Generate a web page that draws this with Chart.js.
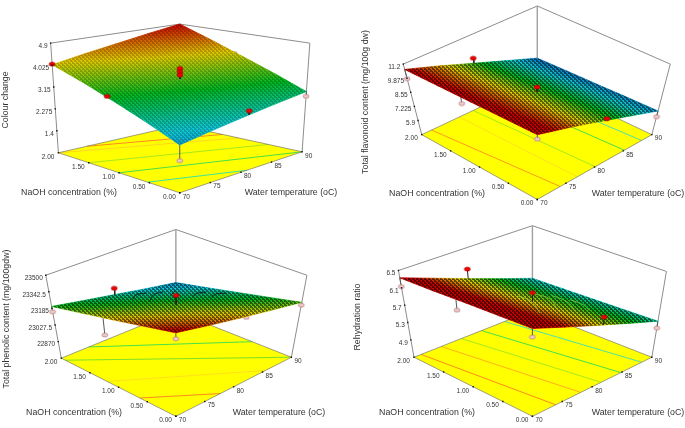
<!DOCTYPE html>
<html>
<head>
<meta charset="utf-8">
<title>Response surfaces</title>
<style>
  html, body { margin: 0; padding: 0; background: #fff; }
  canvas { position: absolute; filter: blur(0.4px); }
</style>
<script src="https://cdn.jsdelivr.net/npm/chart.js@4"></script>
</head>
<body>
<canvas id="colourChart" width="343" height="214" style="left:0;top:0"></canvas>
<canvas id="flavonoidChart" width="343" height="214" style="left:342px;top:0"></canvas>
<canvas id="phenolicChart" width="343" height="214" style="left:0;top:214px"></canvas>
<canvas id="rehydrationChart" width="343" height="214" style="left:342px;top:214px"></canvas>
<script>
// axes shared by the four plots
const tempTicks = [70, 75, 80, 85, 90];
const naohTicks = [0, 0.5, 1, 1.5, 2];

// response read at each tick crossing, one row per NaOH tick, one column per temperature tick
const colourGrid = [
  [2.19, 2.38, 2.57, 2.76, 2.95],
  [2.65, 2.86, 3.06, 3.26, 3.44],
  [3.11, 3.32, 3.54, 3.74, 3.92],
  [3.58, 3.80, 4.02, 4.22, 4.41],
  [4.04, 4.26, 4.47, 4.69, 4.90]
];
const flavonoidGrid = [
  [11.10, 10.10, 9.00, 7.90, 6.80],
  [11.00, 10.00, 8.95, 7.85, 6.75],
  [10.90, 9.90, 8.86, 7.78, 6.68],
  [10.80, 9.80, 8.75, 7.68, 6.62],
  [10.70, 9.70, 8.62, 7.58, 6.55]
];
const phenolicGrid = [
  [23497, 23430, 23365, 23302, 23240],
  [23424, 23365, 23308, 23240, 23177],
  [23350, 23295, 23245, 23180, 23115],
  [23277, 23222, 23170, 23110, 23052],
  [23204, 23150, 23097, 23042, 22990]
];
const rehydrationGrid = [
  [6.46, 6.18, 5.90, 5.62, 5.34],
  [6.43, 6.16, 5.88, 5.60, 5.32],
  [6.40, 6.13, 5.85, 5.58, 5.30],
  [6.36, 6.09, 5.82, 5.55, 5.28],
  [6.33, 6.06, 5.79, 5.52, 5.26]
];

// z axis tick labels, floor sits one step under the first one
const colourTicks = ['1.4', '2.275', '3.15', '4.025', '4.9'];
const flavonoidTicks = ['5.9', '7.225', '8.55', '9.875', '11.2'];
const phenolicTicks = ['22870', '23027.5', '23185', '23342.5', '23500'];
const rehydrationTicks = ['4.9', '5.3', '5.7', '6.1', '6.5'];

// design points: temperature, NaOH, response
const colourPoints = [
  [70, 2, 4.06], [70, 1.15, 3.28], [70, 0, 1.64], [90, 0, 2.76], [90, 1.15, 4.0],
  [81, 0, 2.76], [80, 1, 3.95], [80, 1, 3.82], [80, 1, 3.69]
];
const flavonoidPoints = [
  [70, 2, 9.83], [70, 1.15, 10.25], [70, 0, 10.65], [90, 0, 6.25],
  [81, 0, 8.95], [80, 1, 9.31], [80, 2, 9.08]
];
const phenolicPoints = [
  [70, 2, 23153], [70, 1.15, 23165], [70, 0, 23440], [90, 0, 23213],
  [81, 0, 23343], [80, 1, 23335], [80, 2, 23157]
];
const rehydrationPoints = [
  [70, 2, 6.13], [70, 1.15, 6.14], [70, 0, 6.27], [90, 0, 5.18],
  [81, 0, 6.03], [80, 1, 6.06], [80, 2, 6.01]
];

// floor contours: from temp, from NaOH, to temp, to NaOH, colour
const colourContours = [
  [74.7, 2, 90, 1.3, '#ff8a1e'],
  [70, 2, 90, 1.04, '#ffd81e'],
  [70, 1.5, 90, 0.55, '#a8e81e'],
  [70, 1, 90, 0, '#48e048'],
  [70, 0.53, 81, 0, '#40e0a0']
];
const flavonoidContours = [
  [71.7, 2, 74, 0, '#ff9a1e'],
  [76.5, 2, 77, 0, '#ffe01e'],
  [78.9, 2, 80.1, 0, '#a8e81e'],
  [84, 2, 85.2, 0, '#48e048'],
  [87, 2, 88.2, 0, '#50e0a8']
];
const phenolicContours = [
  [70, 0.63, 77.7, 0, '#ff8a1e'],
  [70, 1.2, 85.5, 0, '#ffe01e'],
  [70, 1.93, 90, 0, '#80e028'],
  [74.8, 2, 90, 0.68, '#48e048']
];
const rehydrationContours = [
  [71.2, 2, 73.9, 0, '#ff8a1e'],
  [74.6, 2, 78.1, 0, '#ffb01e'],
  [78, 2, 81.5, 0, '#a8e81e'],
  [81.4, 2, 84.8, 0, '#48e048'],
  [85.3, 2, 88.3, 0, '#50e0a8']
];

// contour curves on the surface, each a run of temperature, NaOH pairs
const phenolicCurves = [
  [[79.4, 1.64], [81.5, 1.8], [83.2, 1.8]],
  [[79.8, 1.4], [82.8, 1.65], [84.9, 1.7]],
  [[84.2, 1.5], [86.5, 1.66]],
  [[84.6, 1.2], [86.6, 1.33], [87.9, 1.3]],
  [[86.1, 1.04], [87.8, 1.13], [88.9, 1.07]]
];
const rehydrationCurves = [
  [[80.2, 1.25], [80, 1.01], [76.6, 0.55]],
  [[83.5, 1.33], [83.6, 1.08], [80.6, 0.68]],
  [[85.4, 1.24], [84.9, 0.94], [82.6, 0.6]],
  [[86.3, 1.04], [86, 0.79], [84.6, 0.57]]
];

const panels = [
  {
    id: 'colourChart', title: 'Colour change', grid: colourGrid, ticks: colourTicks,
    points: colourPoints, contours: colourContours, curves: [], curveColour: '#000',
    low: 1.4, high: 4.9, colourMin: 1.6, colourMax: 4.9,
    floor: { f: [180, 197], l: [55, 155], r: [306, 154], b: [180, 126] },
    roof: { f: [180, 65], l: [47, 40], r: [314, 40], b: [180, 20] },
    titlePos: [6, 100], naohPos: [69, 193], tempPos: [291, 193], mesh: 0.2
  },
  {
    id: 'flavonoidChart', title: 'Total flavonoid content (mg/100g dw)', grid: flavonoidGrid, ticks: flavonoidTicks,
    points: flavonoidPoints, contours: flavonoidContours, curves: [], curveColour: '#000',
    low: 5.9, high: 11.2, colourMin: 6.2, colourMax: 10.6,
    floor: { f: [196, 204], l: [77, 136], r: [314, 136], b: [196, 79] },
    roof: { f: [196, 135], l: [58, 62], r: [333, 62], b: [196, 1] },
    titlePos: [24, 102], naohPos: [95, 194], tempPos: [296, 194], mesh: 0.5
  },
  {
    id: 'phenolicChart', title: 'Total phenolic content (mg/100gdw)', grid: phenolicGrid, ticks: phenolicTicks,
    points: phenolicPoints, contours: phenolicContours, curves: phenolicCurves, curveColour: '#101010',
    low: 22870, high: 23500, colourMin: 22910, colourMax: 23470,
    floor: { f: [176, 207], l: [58, 146], r: [295, 145], b: [176, 97] },
    roof: { f: [176, 119], l: [42, 59], r: [311, 59], b: [176, 11] },
    titlePos: [7, 105], naohPos: [74, 199], tempPos: [279, 199], mesh: 0.5
  },
  {
    id: 'rehydrationChart', title: 'Rehydration ratio', grid: rehydrationGrid, ticks: rehydrationTicks,
    points: rehydrationPoints, contours: rehydrationContours, curves: rehydrationCurves, curveColour: '#8cc83c',
    low: 4.9, high: 6.5, colourMin: 4.9, colourMax: 6.2,
    floor: { f: [191, 207], l: [69, 145], r: [314, 145], b: [191, 96] },
    roof: { f: [191, 113], l: [53, 54], r: [329, 55], b: [191, 7] },
    titlePos: [16, 103], naohPos: [85, 199], tempPos: [296, 199], mesh: 0.55
  }
];

function mix(a, b, k) { return a + (b - a) * k; }

function corners(c, u, v) {
  // u along temperature, v along NaOH
  const x = mix(mix(c.f[0], c.r[0], u), mix(c.l[0], c.b[0], u), v);
  const y = mix(mix(c.f[1], c.r[1], u), mix(c.l[1], c.b[1], u), v);
  return [x, y];
}

function project(p, temp, naoh, z) {
  const u = (temp - 70) / 20, v = naoh / 2;
  const step = (p.high - p.low) / (p.ticks.length - 1);
  const base = p.low - step;
  const k = (z - base) / (p.high - base);
  const a = corners(p.floor, u, v), b = corners(p.roof, u, v);
  return { x: mix(a[0], b[0], k), y: mix(a[1], b[1], k) };
}

function surfaceAt(p, temp, naoh) {
  const u = (temp - 70) / 5, v = naoh / 0.5;
  const i = Math.min(Math.floor(u), 3), j = Math.min(Math.floor(v), 3);
  const g = p.grid;
  return mix(mix(g[j][i], g[j][i + 1], u - i), mix(g[j + 1][i], g[j + 1][i + 1], u - i), v - j);
}

const colourStops = ['#0048b0', '#10c8d8', '#00b820', '#e0cc00', '#c80000'];

function cellGradient(chart, p, i, j) {
  if (!chart.chartArea) return 'rgba(0,0,0,0)';
  const t0 = tempTicks[i], t1 = tempTicks[i + 1], n0 = naohTicks[j], n1 = naohTicks[j + 1];
  const g = p.grid, sx = chart.scales.x, sy = chart.scales.y;
  const px = q => [sx.getPixelForValue(q.x), sy.getPixelForValue(q.y)];
  const a = px(project(p, t0, n0, g[j][i]));
  const b = px(project(p, t1, n0, g[j][i + 1]));
  const c = px(project(p, t0, n1, g[j + 1][i]));
  const dz1 = g[j][i + 1] - g[j][i], dz2 = g[j + 1][i] - g[j][i];
  const ex = b[0] - a[0], ey = b[1] - a[1], fx = c[0] - a[0], fy = c[1] - a[1];
  const det = ex * fy - ey * fx;
  const gx = (dz1 * fy - ey * dz2) / det, gy = (ex * dz2 - dz1 * fx) / det;
  const len = gx * gx + gy * gy;
  const from = p.colourMin - g[j][i], to = p.colourMax - g[j][i];
  const ends = [a[0] + gx * from / len, a[1] + gy * from / len, a[0] + gx * to / len, a[1] + gy * to / len];
  if (!ends.every(Number.isFinite)) return 'rgba(0,0,0,0)';
  const grad = chart.ctx.createLinearGradient(ends[0], ends[1], ends[2], ends[3]);
  colourStops.forEach((c2, k) => grad.addColorStop(k / (colourStops.length - 1), c2));
  return grad;
}

function meshPattern(alpha) {
  const tile = document.createElement('canvas');
  tile.width = 4; tile.height = 4;
  const c = tile.getContext('2d');
  c.fillStyle = 'rgba(0,0,0,' + alpha + ')';
  c.fillRect(0, 0, 4, 4);
  c.clearRect(0, 0, 2, 1);
  c.clearRect(2, 2, 2, 1);
  c.clearRect(1, 1, 1, 1);
  c.clearRect(3, 3, 1, 1);
  return c.createPattern(tile, 'repeat');
}

function dotImage(fill, stroke) {
  const dot = document.createElement('canvas');
  dot.width = 8; dot.height = 6;
  const c = dot.getContext('2d');
  c.beginPath();
  c.ellipse(4, 3, 3, 2, 0, 0, Math.PI * 2);
  c.fillStyle = fill; c.fill();
  c.strokeStyle = stroke; c.lineWidth = 0.6; c.stroke();
  return dot;
}

const redDot = dotImage('#f00000', '#a00000');
const pinkDot = dotImage('#f0c8c8', '#a87070');

function lineSet(pts, colour, width) {
  return { data: pts, showLine: true, borderColor: colour, borderWidth: width, pointRadius: 0, fill: false };
}

function shapeSet(pts, bg, edge) {
  return {
    data: pts.concat([pts[0]]), showLine: true, fill: 'shape', backgroundColor: bg,
    borderColor: edge || 'rgba(0,0,0,0)', borderWidth: edge ? 0.8 : 0, pointRadius: 0
  };
}

function buildDatasets(p) {
  const out = [];
  const step = (p.high - p.low) / (p.ticks.length - 1);
  const base = p.low - step;
  const boxGrey = '#8c8c8c';
  const fl = (t, n) => project(p, t, n, base);
  const rf = (t, n) => project(p, t, n, p.high);

  // back of the box
  out.push(lineSet([rf(70, 2), rf(90, 2), rf(90, 0)], boxGrey, 1));
  out.push(lineSet([rf(90, 2), fl(90, 2)], '#a0a0a0', 1.4));
  out.push(lineSet([rf(70, 2), fl(70, 2)], boxGrey, 1));
  out.push(lineSet([rf(90, 0), fl(90, 0)], boxGrey, 1));

  // floor
  out.push(shapeSet([fl(70, 0), fl(90, 0), fl(90, 2), fl(70, 2)], '#ffff00'));
  p.contours.forEach(c => {
    out.push(lineSet([fl(c[0], c[1]), fl(c[2], c[3])], c[4], 1));
  });
  out.push(lineSet([fl(70, 2), fl(70, 0), fl(90, 0), fl(90, 2), fl(70, 2)], '#77776a', 0.7));

  // points under the surface go first
  const under = p.points.filter(d => d[2] < surfaceAt(p, d[0], d[1]));
  const over = p.points.filter(d => d[2] >= surfaceAt(p, d[0], d[1]));
  under.forEach(d => {
    out.push(lineSet([project(p, d[0], d[1], d[2]), project(p, d[0], d[1], surfaceAt(p, d[0], d[1]))], '#555', 1));
  });
  out.push({
    data: under.map(d => project(p, d[0], d[1], d[2])), pointStyle: pinkDot, pointRadius: 3, showLine: false
  });

  // surface cells with the mesh over them
  const outline = [];
  for (let j = 0; j < naohTicks.length - 1; j++) {
    for (let i = 0; i < tempTicks.length - 1; i++) {
      const cell = [
        project(p, tempTicks[i], naohTicks[j], p.grid[j][i]),
        project(p, tempTicks[i + 1], naohTicks[j], p.grid[j][i + 1]),
        project(p, tempTicks[i + 1], naohTicks[j + 1], p.grid[j + 1][i + 1]),
        project(p, tempTicks[i], naohTicks[j + 1], p.grid[j + 1][i])
      ];
      const paint = ctx => cellGradient(ctx.chart, p, i, j);
      out.push(shapeSet(cell, paint, paint));
    }
  }
  tempTicks.forEach((t, i) => outline.push(project(p, t, 0, p.grid[0][i])));
  naohTicks.slice(1).forEach((n, j) => outline.push(project(p, 90, n, p.grid[j + 1][4])));
  tempTicks.slice(0, -1).reverse().forEach((t, i) => outline.push(project(p, t, 2, p.grid[4][3 - i])));
  naohTicks.slice(1, -1).reverse().forEach((n, j) => outline.push(project(p, 70, n, p.grid[3 - j][0])));
  out.push(shapeSet(outline, meshPattern(p.mesh)));

  p.curves.forEach(run => {
    out.push(Object.assign(lineSet(run.map(q => project(p, q[0], q[1], surfaceAt(p, q[0], q[1]))), p.curveColour, 0.8), { tension: 0.4 }));
  });

  // points over the surface
  over.forEach(d => {
    out.push(lineSet([project(p, d[0], d[1], d[2]), project(p, d[0], d[1], surfaceAt(p, d[0], d[1]))], '#222', 1));
  });
  out.push({
    data: over.map(d => project(p, d[0], d[1], d[2])), pointStyle: redDot, pointRadius: 3, showLine: false
  });

  // tick marks
  const marks = [];
  naohTicks.forEach(n => marks.push(fl(70, n)));
  tempTicks.forEach(t => marks.push(fl(t, 0)));
  p.ticks.forEach((label, k) => marks.push(project(p, 70, 2, p.low + step * k)));
  out.push({ data: marks, pointStyle: 'rect', pointRadius: 1, backgroundColor: '#111', borderWidth: 0, showLine: false });

  return out.reverse(); // Chart.js paints the last dataset first
}

const axisLabels = {
  id: 'axisLabels',
  afterDatasetsDraw(chart, args, opts) {
    const p = opts.panel, ctx = chart.ctx;
    const sx = chart.scales.x, sy = chart.scales.y;
    const step = (p.high - p.low) / (p.ticks.length - 1);
    const base = p.low - step;
    const put = (text, q, dx, dy, align) => {
      ctx.textAlign = align;
      ctx.fillText(text, sx.getPixelForValue(q.x) + dx, sy.getPixelForValue(q.y) + dy);
    };
    ctx.save();
    ctx.fillStyle = '#333';
    ctx.textBaseline = 'middle';
    ctx.font = '6.5px "Liberation Sans"';
    naohTicks.forEach(n => put(n.toFixed(2), project(p, 70, n, base), -4, 4, 'right'));
    tempTicks.forEach(t => put(String(t), project(p, t, 0, base), 3, 4, 'left'));
    p.ticks.forEach((label, k) => put(label, project(p, 70, 2, p.low + step * k), -3, 3, 'right'));

    ctx.font = '8.8px "Liberation Sans"';
    ctx.textAlign = 'center';
    ctx.fillText('NaOH concentration (%)', p.naohPos[0], p.naohPos[1]);
    ctx.fillText('Water temperature (oC)', p.tempPos[0], p.tempPos[1]);
    ctx.translate(p.titlePos[0], p.titlePos[1]);
    ctx.rotate(-Math.PI / 2);
    ctx.fillText(p.title, 0, 0);
    ctx.restore();
  }
};

panels.forEach(p => {
  const canvas = document.getElementById(p.id);
  new Chart(canvas, {
    type: 'scatter',
    data: { datasets: buildDatasets(p) },
    plugins: [axisLabels],
    options: {
      responsive: false,
      animation: false,
      events: [],
      layout: { padding: 0 },
      scales: {
        x: { type: 'linear', display: false, min: 0, max: canvas.width },
        y: { type: 'linear', display: false, min: 0, max: canvas.height, reverse: true }
      },
      plugins: { legend: { display: false }, tooltip: { enabled: false }, axisLabels: { panel: p } }
    }
  });
});
</script>
</body>
</html>
